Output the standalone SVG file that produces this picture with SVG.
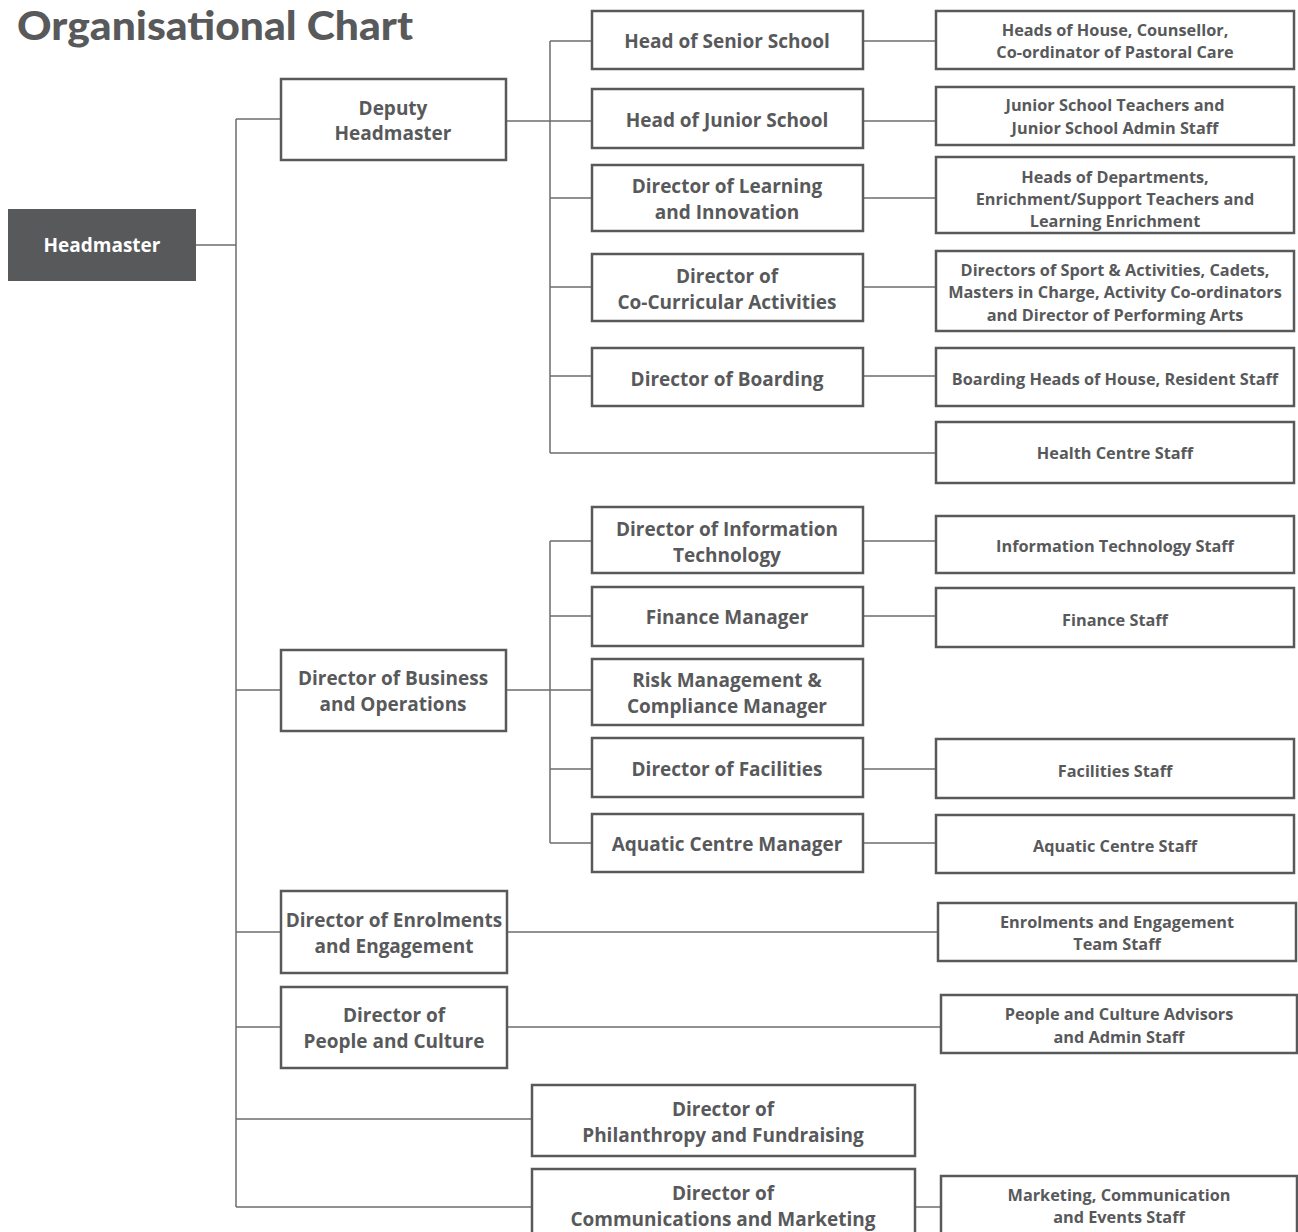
<svg xmlns="http://www.w3.org/2000/svg" width="1298" height="1232" viewBox="0 0 1298 1232">
<style>
.bx{fill:#fff;stroke:#58595b;stroke-width:2.5}
.hd{fill:#58595b}
.t{font-family:"Open Sans","Liberation Sans",sans-serif;font-weight:700;font-size:19px;fill:#58595b;text-anchor:middle}
.s{font-family:"Open Sans","Liberation Sans",sans-serif;font-weight:700;font-size:16.3px;fill:#58595b;text-anchor:middle}
.w{fill:#fff}
.c{fill:none;stroke:#6d6e71;stroke-width:1.5}
.title{font-family:Lato,"Open Sans","Liberation Sans",sans-serif;font-weight:900;font-size:40px;fill:#58595b}
</style>
<rect width="1298" height="1232" fill="#fff"/>
<text class="title" x="17" y="40" textLength="396" lengthAdjust="spacingAndGlyphs">Organisational Chart</text>
<g id="connectors">
<path class="c" d="M196 245H236M236 119V1207M236 119H281M236 690H281M236 932H281M236 1027H281M236 1119H532M236 1207H532"/>
<path class="c" d="M506 121H550M550 41V453M550 41H592M550 121H592M550 198H592M550 287H592M550 376H592M550 453H936"/>
<path class="c" d="M863 41H936M863 121H936M863 198H936M863 287H936M863 376H936"/>
<path class="c" d="M506 690H592M550 541V843M550 541H592M550 616H592M550 769H592M550 843H592"/>
<path class="c" d="M863 541H936M863 616H936M863 769H936M863 843H936"/>
<path class="c" d="M507 932H938M507 1027H941M915 1207H941"/>
</g>
<g id="headmaster"><rect class="hd" x="8" y="209" width="188" height="72"/><text class="t w" x="102" y="252">Headmaster</text></g>
<g id="deputy"><rect class="bx" x="281" y="79" width="225" height="81"/><text class="t" x="393" y="115">Deputy</text><text class="t" x="393" y="140">Headmaster</text></g>
<g id="senior"><rect class="bx" x="592" y="11" width="271" height="58"/><text class="t" x="727" y="48">Head of Senior School</text></g>
<g id="senior-staff"><rect class="bx" x="936" y="11" width="358" height="58"/><text class="s" x="1115" y="36">Heads of House, Counsellor,</text><text class="s" x="1115" y="58">Co-ordinator of Pastoral Care</text></g>
<g id="junior"><rect class="bx" x="592" y="89" width="271" height="59"/><text class="t" x="727" y="127">Head of Junior School</text></g>
<g id="junior-staff"><rect class="bx" x="936" y="87" width="358" height="58"/><text class="s" x="1115" y="111">Junior School Teachers and</text><text class="s" x="1115" y="134">Junior School Admin Staff</text></g>
<g id="learning"><rect class="bx" x="592" y="165" width="271" height="66"/><text class="t" x="727" y="193">Director of Learning</text><text class="t" x="727" y="219">and Innovation</text></g>
<g id="learning-staff"><rect class="bx" x="936" y="157" width="358" height="76"/><text class="s" x="1115" y="183">Heads of Departments,</text><text class="s" x="1115" y="205">Enrichment/Support Teachers and</text><text class="s" x="1115" y="227">Learning Enrichment</text></g>
<g id="cocurricular"><rect class="bx" x="592" y="254" width="271" height="67"/><text class="t" x="727" y="283">Director of</text><text class="t" x="727" y="309">Co-Curricular Activities</text></g>
<g id="cocurricular-staff"><rect class="bx" x="936" y="251" width="358" height="80"/><text class="s" x="1115" y="276">Directors of Sport &amp; Activities, Cadets,</text><text class="s" x="1115" y="298">Masters in Charge, Activity Co-ordinators</text><text class="s" x="1115" y="321">and Director of Performing Arts</text></g>
<g id="boarding"><rect class="bx" x="592" y="348" width="271" height="58"/><text class="t" x="727" y="386">Director of Boarding</text></g>
<g id="boarding-staff"><rect class="bx" x="936" y="348" width="358" height="58"/><text class="s" x="1115" y="385">Boarding Heads of House, Resident Staff</text></g>
<g id="health-staff"><rect class="bx" x="936" y="422" width="358" height="61"/><text class="s" x="1115" y="459">Health Centre Staff</text></g>
<g id="business"><rect class="bx" x="281" y="650" width="225" height="81"/><text class="t" x="393" y="685">Director of Business</text><text class="t" x="393" y="711">and Operations</text></g>
<g id="it"><rect class="bx" x="592" y="507" width="271" height="66"/><text class="t" x="727" y="536">Director of Information</text><text class="t" x="727" y="562">Technology</text></g>
<g id="it-staff"><rect class="bx" x="936" y="516" width="358" height="57"/><text class="s" x="1115" y="552">Information Technology Staff</text></g>
<g id="finance"><rect class="bx" x="592" y="587" width="271" height="59"/><text class="t" x="727" y="624">Finance Manager</text></g>
<g id="finance-staff"><rect class="bx" x="936" y="588" width="358" height="59"/><text class="s" x="1115" y="626">Finance Staff</text></g>
<g id="risk"><rect class="bx" x="592" y="659" width="271" height="66"/><text class="t" x="727" y="687">Risk Management &amp;</text><text class="t" x="727" y="713">Compliance Manager</text></g>
<g id="facilities"><rect class="bx" x="592" y="738" width="271" height="59"/><text class="t" x="727" y="776">Director of Facilities</text></g>
<g id="facilities-staff"><rect class="bx" x="936" y="739" width="358" height="59"/><text class="s" x="1115" y="777">Facilities Staff</text></g>
<g id="aquatic"><rect class="bx" x="592" y="814" width="271" height="58"/><text class="t" x="727" y="851">Aquatic Centre Manager</text></g>
<g id="aquatic-staff"><rect class="bx" x="936" y="815" width="358" height="58"/><text class="s" x="1115" y="852">Aquatic Centre Staff</text></g>
<g id="enrolments"><rect class="bx" x="281" y="891" width="226" height="82"/><text class="t" x="394" y="927">Director of Enrolments</text><text class="t" x="394" y="953">and Engagement</text></g>
<g id="enrolments-staff"><rect class="bx" x="938" y="903" width="358" height="58"/><text class="s" x="1117" y="928">Enrolments and Engagement</text><text class="s" x="1117" y="950">Team Staff</text></g>
<g id="people"><rect class="bx" x="281" y="987" width="226" height="81"/><text class="t" x="394" y="1022">Director of</text><text class="t" x="394" y="1048">People and Culture</text></g>
<g id="people-staff"><rect class="bx" x="941" y="995" width="356" height="58"/><text class="s" x="1119" y="1020">People and Culture Advisors</text><text class="s" x="1119" y="1043">and Admin Staff</text></g>
<g id="philanthropy"><rect class="bx" x="532" y="1085" width="383" height="71"/><text class="t" x="723" y="1116">Director of</text><text class="t" x="723" y="1142">Philanthropy and Fundraising</text></g>
<g id="communications"><rect class="bx" x="532" y="1169" width="383" height="80"/><text class="t" x="723" y="1200">Director of</text><text class="t" x="723" y="1226">Communications and Marketing</text></g>
<g id="communications-staff"><rect class="bx" x="941" y="1176" width="356" height="70"/><text class="s" x="1119" y="1201">Marketing, Communication</text><text class="s" x="1119" y="1223">and Events Staff</text></g>
</svg>
